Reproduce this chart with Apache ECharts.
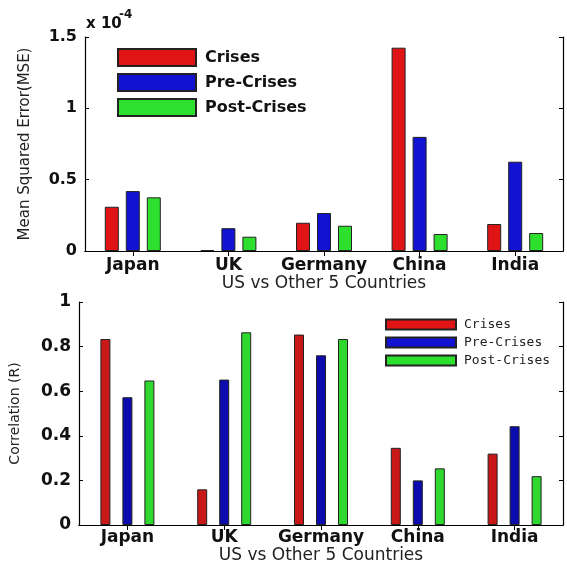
<!DOCTYPE html>
<html><head><meta charset="utf-8">
<script src="https://cdn.jsdelivr.net/npm/echarts@6/dist/echarts.min.js"></script>
<style>html,body{margin:0;padding:0;background:#fff}#c{width:567px;height:565px}</style>
</head><body><div id="c"></div>
<script>
const categories = ['Japan', 'UK', 'Germany', 'China', 'India'];
const seriesNames = ['Crises', 'Pre-Crises', 'Post-Crises'];
// MSE values (x 10^-4)
const mseCrises = [0.31, 0.007, 0.198, 1.425, 0.189];
const msePre = [0.42, 0.16, 0.266, 0.80, 0.626];
const msePost = [0.376, 0.10, 0.177, 0.119, 0.126];
// Correlation (R)
const corrCrises = [0.834, 0.16, 0.854, 0.346, 0.32];
const corrPre = [0.573, 0.652, 0.761, 0.20, 0.443];
const corrPost = [0.648, 0.864, 0.834, 0.254, 0.219];
const xTitle = 'US vs Other 5 Countries';

const topColors = ['#e01414', '#1212d2', '#2ee02e'];
const botColors = ['#c81818', '#0c0cae', '#2ed82e'];
const F = 'DejaVu Sans';
const line = { show: true, lineStyle: { color: '#000', width: 1.2 } };

function xBottom(grid, fs, margin, nameGap, nameFs) {
  return { type: 'category', gridIndex: grid, data: categories, position: 'bottom',
    axisLine: line, axisTick: { show: false },
    axisLabel: { interval: 0, hideOverlap: false, color: '#111', fontFamily: F, fontWeight: 'bold', fontSize: fs, margin: margin },
    name: xTitle, nameLocation: 'middle', nameGap: nameGap,
    nameTextStyle: { color: '#222', fontFamily: F, fontSize: nameFs } };
}
function xTop(grid) {
  return { type: 'category', gridIndex: grid, data: categories, position: 'top',
    axisLine: line, axisTick: { show: true, inside: true, length: 5, alignWithLabel: true, interval: 0, lineStyle: { color: '#000' } },
    axisLabel: { show: false, interval: 0 } };
}
function yLeft(grid, max, interval, fs, name, nameGap, nameFs) {
  return { type: 'value', gridIndex: grid, min: 0, max: max, interval: interval, position: 'left',
    axisLine: line, splitLine: { show: false },
    axisTick: { show: true, inside: true, length: 4, lineStyle: { color: '#000' } },
    axisLabel: { color: '#111', fontFamily: F, fontWeight: 'bold', fontSize: fs, margin: 8 },
    name: name, nameLocation: 'middle', nameGap: nameGap,
    nameTextStyle: { color: '#222', fontFamily: F, fontSize: nameFs } };
}
function yRight(grid, max, interval) {
  return { type: 'value', gridIndex: grid, min: 0, max: max, interval: interval, position: 'right',
    axisLine: line, splitLine: { show: false },
    axisTick: { show: true, inside: true, length: 4, lineStyle: { color: '#000' } },
    axisLabel: { show: false } };
}
function bar(name, data, color, xi, yi, w, gap) {
  return { type: 'bar', name: name, data: data, xAxisIndex: xi, yAxisIndex: yi,
    barWidth: w, barGap: gap, animation: false,
    itemStyle: { color: color, borderColor: '#222', borderWidth: 1 } };
}

const chart = echarts.init(document.getElementById('c'), null, { renderer: 'canvas' });
chart.setOption({
  backgroundColor: '#fff',
  animation: false,
  grid: [
    { left: 85, right: 4, top: 37, bottom: 314 },
    { left: 79, right: 4, top: 302, bottom: 39 }
  ],
  xAxis: [ xBottom(0, 17, 6, 24, 17), xTop(0), xBottom(1, 17, 4, 22, 17), xTop(1) ],
  yAxis: [ yLeft(0, 1.5, 0.5, 16, 'Mean Squared Error(MSE)', 52, 15), yRight(0, 1.5, 0.5),
           yLeft(1, 1, 0.2, 17, 'Correlation (R)', 57, 14), yRight(1, 1, 0.2) ],
  legend: [
    { orient: 'vertical', left: 112, top: 43, itemWidth: 78, itemHeight: 17, itemGap: 6,
      icon: 'rect', data: seriesNames, selectedMode: false,
      textStyle: { fontFamily: F, fontWeight: 'bold', fontSize: 16, color: '#111', padding: [0, 0, 0, 4] } },
    { orient: 'vertical', left: 380, top: 313, itemWidth: 70, itemHeight: 10, itemGap: 5,
      icon: 'rect', data: seriesNames, selectedMode: false,
      textStyle: { fontFamily: 'DejaVu Sans Mono', fontSize: 13, color: '#222', padding: [0, 0, 0, 3] } }
  ],
  graphic: [
    { type: 'text', left: 86, top: 17, style: { text: 'x 10', font: 'bold 15px "DejaVu Sans"', fill: '#111' } },
    { type: 'text', left: 119, top: 9, style: { text: '-4', font: 'bold 12px "DejaVu Sans"', fill: '#111' } }
  ],
  series: [
    bar(seriesNames[0], mseCrises, topColors[0], 0, 0, 14, '50%'),
    bar(seriesNames[1], msePre, topColors[1], 0, 0, 14, '50%'),
    bar(seriesNames[2], msePost, topColors[2], 0, 0, 14, '50%'),
    bar(seriesNames[0], corrCrises, botColors[0], 2, 2, 10, '120%'),
    bar(seriesNames[1], corrPre, botColors[1], 2, 2, 10, '120%'),
    bar(seriesNames[2], corrPost, botColors[2], 2, 2, 10, '120%')
  ]
});
</script></body></html>
